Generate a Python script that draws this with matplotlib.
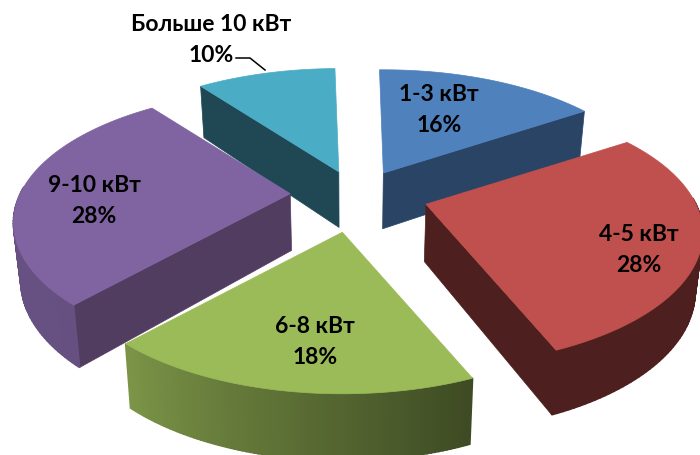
import numpy as np
import matplotlib
matplotlib.use("Agg")
import matplotlib.pyplot as plt
from matplotlib.patches import Polygon

# --- data ---
categories = ["1-3 кВт", "4-5 кВт", "6-8 кВт", "9-10 кВт", "Больше 10 кВт"]
values = [16, 28, 18, 28, 10]

# --- style ---
top_colors = ["#4f81bd", "#c0504d", "#9bbb59", "#8064a2", "#4bacc6"]
wall_colors = ["#2a4466", "#4d1f1e", "#3e4a22", "#503d60", "#1f4854"]
label_centres = [(439, 110), (639, 250), (315, 342), (94, 201), (211, 40)]
draw_order = [4, 0, 3, 1, 2]

CX, CY = 357, 196
RX, RZ = 270, 126
PERSP = 0.22
EXPLODE_X, EXPLODE_Y = 0.25, 0.235
START_ANGLE = -1.0


def project(theta):
    f = 1 / (1 + PERSP * np.cos(theta))
    return RX * np.sin(theta) * f, -RZ * np.cos(theta) * f


def drop(x, y):
    """Bottom-face point under a top-face point."""
    return x + (350 - x) * 0.022, y + 47 + 0.05 * y


def shade(theta):
    deg = np.degrees(theta) % 360
    return np.interp(deg, [0, 158, 223, 360], [0.4, 0.4, 0.8, 0.82])


fig = plt.figure(figsize=(7, 4.56), dpi=100)
ax = fig.add_axes([0, 0, 1, 1])
ax.set_xlim(0, 700)
ax.set_ylim(456, 0)
ax.axis("off")

edges = np.radians(np.concatenate([[0], np.cumsum(values)]) * 360 / sum(values) + START_ANGLE)

for i in draw_order:
    t0, t1 = edges[i], edges[i + 1]
    mid = (t0 + t1) / 2
    ox, oy = project(mid)
    ax0, ay0 = CX + EXPLODE_X * ox, CY + EXPLODE_Y * oy
    th = np.linspace(t0, t1, 90)
    px, py = project(th)
    xs, ys = ax0 + px, ay0 + py
    bx, by = drop(xs, ys)
    abx, aby = drop(ax0, ay0)
    z = 2 + i * 0.01

    # radial walls that face the viewer
    if np.cos(t0 - np.pi / 2) < -0.1:
        ax.add_patch(Polygon([(ax0, ay0), (xs[0], ys[0]), (bx[0], by[0]), (abx, aby)],
                             closed=True, fc=wall_colors[i], ec=wall_colors[i], lw=0.5, zorder=z))
    if np.cos(t1 + np.pi / 2) < -0.1:
        ax.add_patch(Polygon([(ax0, ay0), (xs[-1], ys[-1]), (bx[-1], by[-1]), (abx, aby)],
                             closed=True, fc=wall_colors[i], ec=wall_colors[i], lw=0.5, zorder=z))
    # outer wall with a shading gradient, only where it faces the viewer
    base = np.array(matplotlib.colors.to_rgb(top_colors[i]))
    for k in range(len(th) - 1):
        tm = (th[k] + th[k + 1]) / 2
        if np.cos(tm) > 0.05:
            continue
        c = base * shade(tm)
        ax.add_patch(Polygon([(xs[k], ys[k]), (xs[k + 1], ys[k + 1]), (bx[k + 1], by[k + 1]), (bx[k], by[k])],
                             closed=True, fc=c, ec=c, lw=1.2, zorder=z))
    # top face
    ax.add_patch(Polygon(np.column_stack([np.r_[ax0, xs], np.r_[ay0, ys]]),
                         closed=True, fc=top_colors[i], ec=top_colors[i], lw=0.5, zorder=3 + i * 0.01))

for cat, val, (x, y) in zip(categories, values, label_centres):
    ax.text(x, y, f"{cat}\n{val}%", ha="center", va="center", fontsize=16.5, fontweight="bold",
            family="Lato", color="black", linespacing=1.55, zorder=5)

ax.plot([236, 250, 265], [59, 59, 71], color="black", lw=1.1, zorder=5)

fig.savefig("out.png", dpi=100, facecolor="white")
